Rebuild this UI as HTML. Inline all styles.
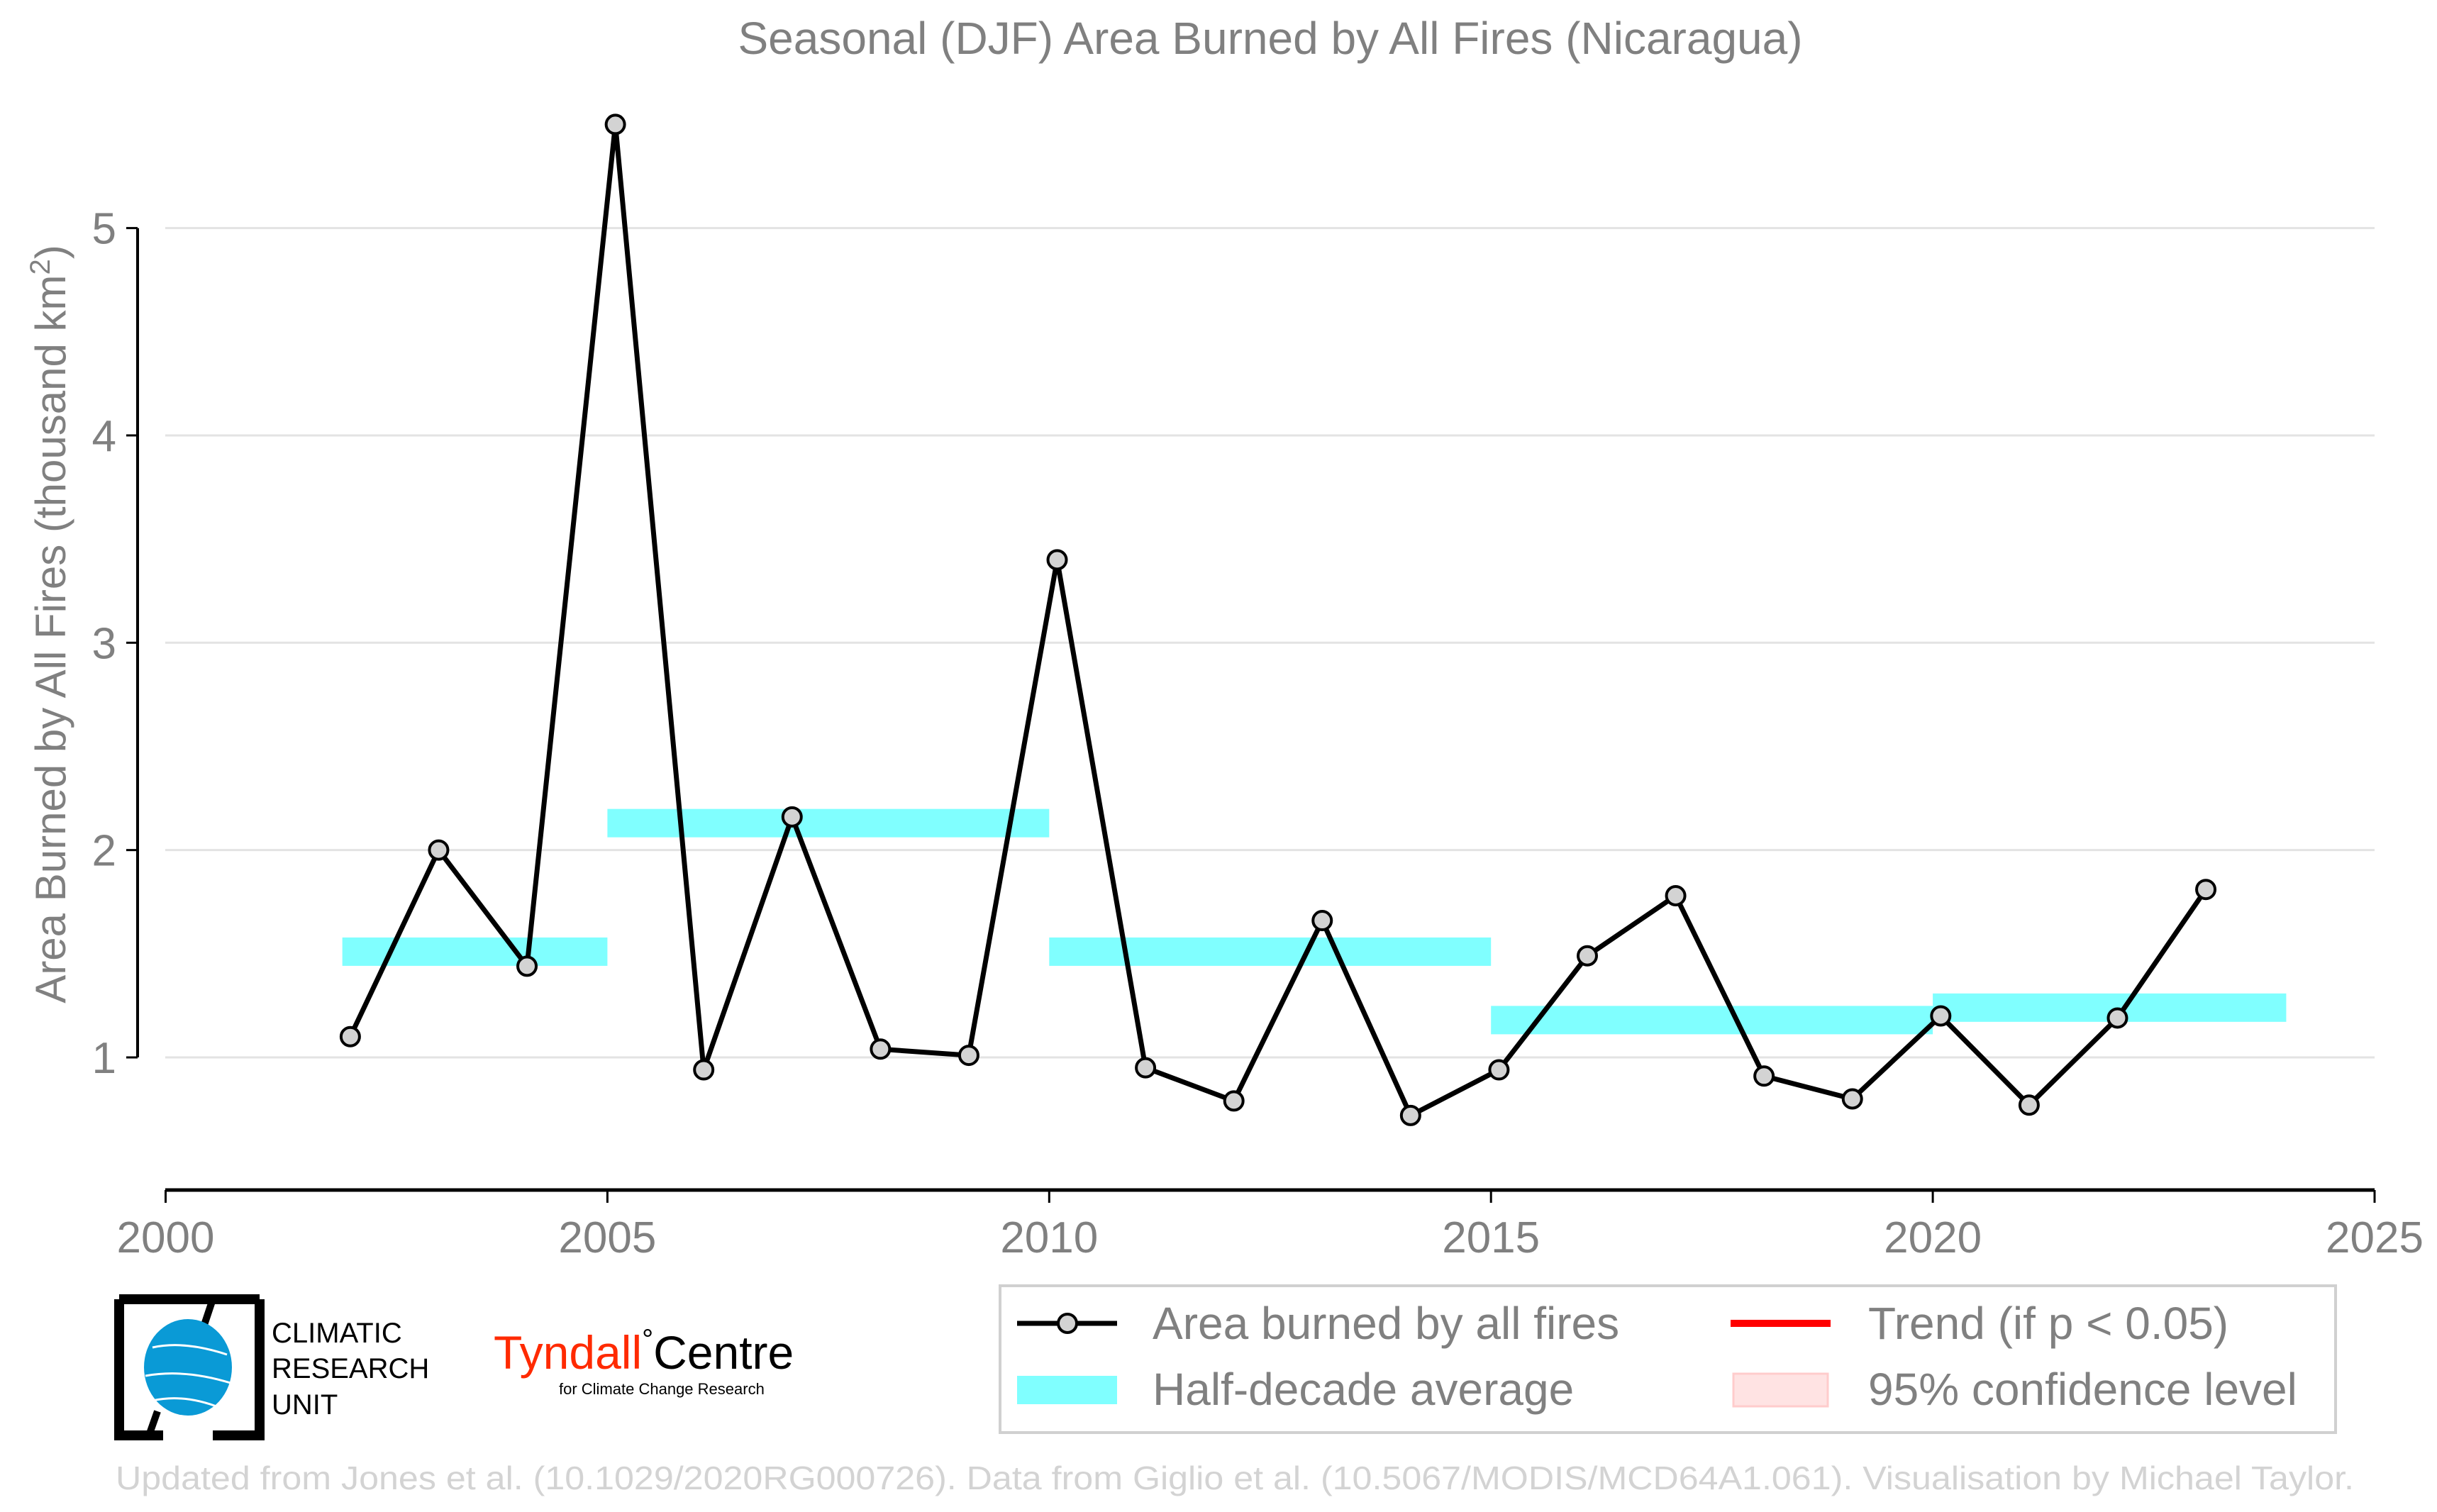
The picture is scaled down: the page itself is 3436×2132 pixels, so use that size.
<!DOCTYPE html>
<html><head><meta charset="utf-8"><style>html,body{margin:0;padding:0;background:#fff}svg{display:block}</style></head>
<body>
<svg id="chart" width="3436" height="2132" viewBox="0 0 3436 2132" xmlns="http://www.w3.org/2000/svg" font-family="Liberation Sans, Arial, sans-serif">
<rect width="3436" height="2132" fill="#fff"/>
<text x="1791" y="76" font-size="64" fill="#808080" text-anchor="middle">Seasonal (DJF) Area Burned by All Fires (Nicaragua)</text>
<text transform="translate(92,880) rotate(-90)" font-size="60" fill="#808080" text-anchor="middle">Area Burned by All Fires (thousand km<tspan baseline-shift="super" font-size="40">2</tspan>)</text>
<g id="grid"></g>
<g id="avg"></g>
<g id="series"></g>
<g id="axes"></g>
<g>
<path d="M168,1832 H366 M168,1832 V2024 H230 M300,2024 H366 V1832" stroke="#000" stroke-width="14" fill="none"/>
<path d="M300,1832 L284,1880 M222,1990 L210,2024" stroke="#000" stroke-width="10"/>
<ellipse cx="265" cy="1928" rx="62" ry="68" fill="#0a9ad6"/>
<path d="M215,1900 Q260,1890 320,1910 M205,1940 Q260,1930 325,1950 M215,1975 Q260,1965 310,1985" stroke="#fff" stroke-width="3" fill="none"/>
<text x="383" y="1893" font-size="40" fill="#000">CLIMATIC</text>
<text x="383" y="1943" font-size="40" fill="#000">RESEARCH</text>
<text x="383" y="1994" font-size="40" fill="#000">UNIT</text>
</g>
<g>
<text x="696" y="1930" font-size="66" fill="#ff2a00">Tyndall<tspan fill="#000" font-size="40" dy="-28">°</tspan><tspan fill="#000" font-size="66" dy="28">Centre</tspan></text>
<text x="788" y="1966" font-size="22" fill="#000">for Climate Change Research</text>
</g>
<g>
<rect x="1410" y="1813" width="1883" height="207" fill="#fff" stroke="#d0d0d0" stroke-width="4"/>
<line x1="1434" y1="1866" x2="1575" y2="1866" stroke="#000" stroke-width="7"/>
<circle cx="1505" cy="1866" r="13" fill="#d3d3d3" stroke="#000" stroke-width="4"/>
<text x="1625" y="1888" font-size="64" fill="#808080">Area burned by all fires</text>
<rect x="1434" y="1940" width="141" height="40" fill="#80ffff"/>
<text x="1625" y="1981" font-size="64" fill="#808080">Half-decade average</text>
<line x1="2440" y1="1866" x2="2581" y2="1866" stroke="#ff0000" stroke-width="10"/>
<text x="2634" y="1888" font-size="64" fill="#808080">Trend (if p &lt; 0.05)</text>
<rect x="2444" y="1937" width="133" height="46" fill="#ffe3e3" stroke="#ffcccc" stroke-width="3"/>
<text x="2634" y="1981" font-size="64" fill="#808080">95% confidence level</text>
</g>
<text x="163" y="2100" font-size="46" fill="#d3d3d3" textLength="3156" lengthAdjust="spacingAndGlyphs">Updated from Jones et al. (10.1029/2020RG000726). Data from Giglio et al. (10.5067/MODIS/MCD64A1.061). Visualisation by Michael Taylor.</text>
</svg>
<script>
const years=[2002,2003,2004,2005,2006,2007,2008,2009,2010,2011,2012,2013,2014,2015,2016,2017,2018,2019,2020,2021,2022,2023];
const values=[1.10,2.00,1.44,5.50,0.94,2.16,1.04,1.01,3.40,0.95,0.79,1.66,0.72,0.94,1.49,1.78,0.91,0.80,1.20,0.77,1.19,1.81];
const avgStart=[2002,2005,2010,2015,2020];
const avgEnd=[2005,2010,2015,2020,2024];
const avgValues=[1.51,2.13,1.51,1.18,1.24];
const yTicks=[1,2,3,4,5];
const xTicks=[2000,2005,2010,2015,2020,2025];
const NS='http://www.w3.org/2000/svg';
const X=v=>233.5+(v-2000)*(3348-233.5)/25;
const Y=v=>1491-(v-1)*(1491-321.6)/4;
function mk(p,t,a){const e=document.createElementNS(NS,t);for(const k in a)e.setAttribute(k,a[k]);p.appendChild(e);return e;}
const grid=document.getElementById('grid'),axes=document.getElementById('axes'),avg=document.getElementById('avg'),ser=document.getElementById('series');
yTicks.forEach(t=>{
 const g=mk(grid,'line',{x1:233,x2:3348,y1:Y(t),y2:Y(t),stroke:'#e3e3e3','stroke-width':3});
 
 
 mk(axes,'line',{x1:178,x2:194,y1:Y(t),y2:Y(t),stroke:'#000','stroke-width':3});
 const l=mk(axes,'text',{x:164,y:Y(t)+22,'font-size':62,fill:'#808080','text-anchor':'end'});
 l.textContent=t;
 
 
});
const ya=mk(axes,'line',{x1:194,x2:194,y1:Y(5),y2:Y(1),stroke:'#000','stroke-width':4});


const xa=mk(axes,'line',{x1:233,x2:3348,y1:1678,y2:1678,stroke:'#000','stroke-width':5});


xTicks.forEach(t=>{
 mk(axes,'line',{x1:X(t),x2:X(t),y1:1678,y2:1696,stroke:'#000','stroke-width':3});
 const l=mk(axes,'text',{x:X(t),y:1766,'font-size':62,fill:'#808080','text-anchor':'middle'});
 l.textContent=t;
 
 
});
avgValues.forEach((v,i)=>{
 const r=mk(avg,'rect',{x:X(avgStart[i]),width:X(avgEnd[i])-X(avgStart[i]),y:Y(v)-20,height:40,fill:'#80ffff'});
 
 
});
const pts=years.map((y,i)=>[X(y+0.09),Y(values[i])]);
const pl=mk(ser,'polyline',{points:pts.map(p=>p.join(',')).join(' '),fill:'none',stroke:'#000','stroke-width':7,'stroke-linejoin':'round'});


pts.forEach(p=>{
 const c=mk(ser,'circle',{cx:p[0],cy:p[1],r:13,fill:'#d3d3d3',stroke:'#000','stroke-width':4});
 
 
});
</script>
</body></html>
